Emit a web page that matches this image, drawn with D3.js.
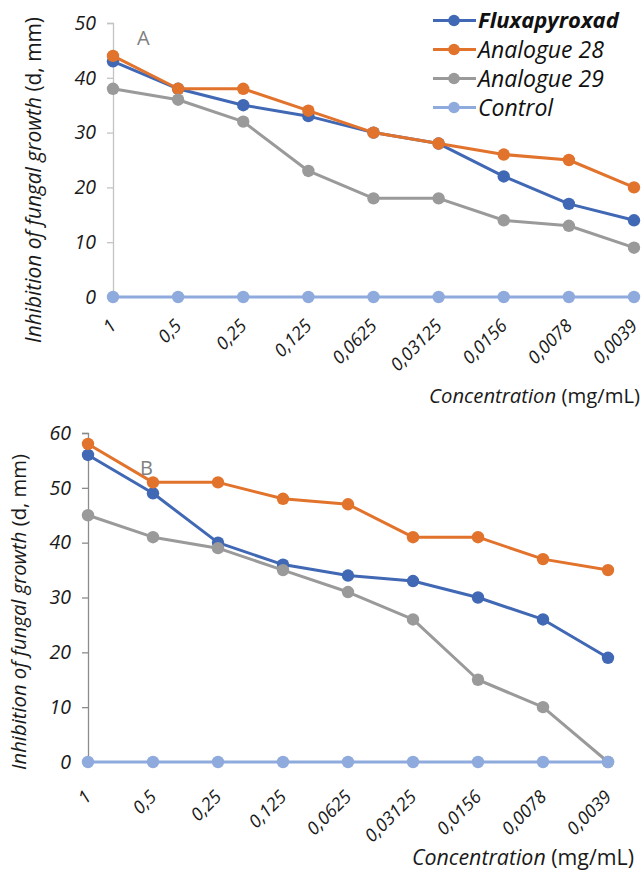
<!DOCTYPE html>
<html>
<head>
<meta charset="utf-8">
<script src="https://cdn.jsdelivr.net/npm/d3@7"></script>
<style>
  html, body { margin: 0; padding: 0; background: #fff; }
  svg { display: block; font-family: "Open Sans", Lato, sans-serif; }
</style>
</head>
<body>
<svg id="chart" width="643" height="872"></svg>
<script>
// ---- data ----
const categories = ["1", "0,5", "0,25", "0,125", "0,0625", "0,03125", "0,0156", "0,0078", "0,0039"];
const seriesNames = ["Fluxapyroxad", "Analogue 28", "Analogue 29", "Control"];
const seriesColors = ["#4068B4", "#E2732C", "#9A9A9A", "#8FAADC"];

const fluxA   = [43, 38, 35, 33, 30, 28, 22, 17, 14];
const an28A   = [44, 38, 38, 34, 30, 28, 26, 25, 20];
const an29A   = [38, 36, 32, 23, 18, 18, 14, 13, 9];
const controlA = [0, 0, 0, 0, 0, 0, 0, 0, 0];

const fluxB   = [56, 49, 40, 36, 34, 33, 30, 26, 19];
const an28B   = [58, 51, 51, 48, 47, 41, 41, 37, 35];
const an29B   = [45, 41, 39, 35, 31, 26, 15, 10, 0];
const controlB = [0, 0, 0, 0, 0, 0, 0, 0, 0];

const yTicksA = [0, 10, 20, 30, 40, 50];
const yTicksB = [0, 10, 20, 30, 40, 50, 60];

const FONT = "'Open Sans', Lato, sans-serif";
const svg = d3.select("#chart");

// scale a text's font size so that its advance width equals target
function fitWidth(sel, target) {
  const node = sel.node();
  const fs = parseFloat(sel.attr("font-size"));
  const w = node.getComputedTextLength();
  if (w > 0) sel.attr("font-size", (fs * target / w).toFixed(2));
}

function drawPanel(cfg) {
  const g = svg.append("g");
  const x = d3.scalePoint().domain(categories).range([cfg.x0, cfg.x1]);
  const y = d3.scaleLinear().domain([0, cfg.yMax]).range([cfg.yBottom, cfg.yTop]);

  // y axis
  const yAxis = d3.axisLeft(y).tickValues(cfg.yTicks).tickSize(6).tickPadding(11).tickFormat(d3.format("d"));
  const ya = g.append("g").attr("transform", `translate(${cfg.x0},0)`).call(yAxis);
  ya.select(".domain").attr("stroke", cfg.axisColor).attr("stroke-width", 1.3);
  ya.selectAll(".tick line").attr("stroke", cfg.axisColor).attr("stroke-width", 1.3);
  ya.selectAll(".tick text")
    .attr("font-family", FONT)
    .attr("font-size", 19.5).attr("font-style", "italic").attr("fill", "#1a1a1a");

  // x tick labels (via axis, line hidden)
  const xAxis = d3.axisBottom(x).tickSize(0).tickPadding(0);
  const xa = g.append("g").attr("transform", `translate(0,${cfg.yBottom})`).call(xAxis);
  xa.select(".domain").remove();
  xa.selectAll(".tick text")
    .attr("font-family", FONT)
    .attr("font-size", 18).attr("font-style", "italic").attr("fill", "#1a1a1a")
    .attr("text-anchor", "end").attr("dy", null).attr("y", 0)
    .attr("transform", `translate(${cfg.lblDx},${cfg.lblDy}) rotate(-45)`);

  // series
  cfg.series.forEach((vals, i) => {
    const pts = vals.map((v, j) => [x(categories[j]), y(v)]);
    g.append("path")
      .attr("d", d3.line()(pts))
      .attr("fill", "none").attr("stroke", seriesColors[i])
      .attr("stroke-width", 3).attr("stroke-linejoin", "round");
    g.selectAll(null).data(pts).enter().append("circle")
      .attr("cx", d => d[0]).attr("cy", d => d[1]).attr("r", 6.2)
      .attr("fill", seriesColors[i]);
  });

  // panel letter
  g.append("text").attr("x", cfg.letterX).attr("y", cfg.letterY)
    .attr("font-size", 20).attr("fill", "#808080").text(cfg.letter);

  // x title
  const xt = g.append("text").attr("x", cfg.xTitleX).attr("y", cfg.xTitleY)
    .attr("text-anchor", "end").attr("font-size", 17.7).attr("fill", "#1a1a1a");
  xt.append("tspan").attr("font-style", "italic").text("Concentration");
  xt.append("tspan").text(" (mg/mL)");
  fitWidth(xt, cfg.xTitleW);

  // y title
  const yt = g.append("text")
    .attr("transform", `translate(${cfg.yTitleX},${cfg.yTitleY}) rotate(-90)`)
    .attr("text-anchor", "middle").attr("font-size", 18.5).attr("fill", "#1a1a1a");
  yt.append("tspan").attr("font-style", "italic").text("Inhibition of fungal growth");
  yt.append("tspan").text(" (d, mm)");
  fitWidth(yt, cfg.yTitleW);
}

drawPanel({
  x0: 113, x1: 634, yTop: 23, yBottom: 297, yMax: 50, yTicks: yTicksA,
  axisColor: "#C3C3C3", lblDx: 4, lblDy: 30,
  series: [fluxA, an28A, an29A, controlA],
  letter: "A", letterX: 137, letterY: 45,
  xTitleX: 640, xTitleY: 403, xTitleW: 211,
  yTitleX: 41, yTitleY: 180, yTitleW: 326
});

drawPanel({
  x0: 88, x1: 608, yTop: 433, yBottom: 762, yMax: 60, yTicks: yTicksB,
  axisColor: "#8C8C8C", lblDx: 4, lblDy: 36,
  series: [fluxB, an28B, an29B, controlB],
  letter: "B", letterX: 140, letterY: 475,
  xTitleX: 634, xTitleY: 865, xTitleW: 222,
  yTitleX: 26, yTitleY: 612, yTitleW: 316
});

// legend
const leg = svg.append("g");
seriesNames.forEach((name, i) => {
  const yy = 20.5 + i * 29;
  leg.append("line").attr("x1", 433).attr("x2", 476).attr("y1", yy).attr("y2", yy)
    .attr("stroke", seriesColors[i]).attr("stroke-width", 3);
  leg.append("circle").attr("cx", 454).attr("cy", yy).attr("r", 5.8).attr("fill", seriesColors[i]);
  leg.append("text").attr("x", 478).attr("y", yy).attr("dy", "0.36em")
    .attr("font-size", i === 0 ? 22 : 23).attr("font-style", "italic")
    .attr("font-weight", i === 0 ? "bold" : "normal")
    .attr("fill", "#111").text(name);
});
</script>
</body>
</html>
